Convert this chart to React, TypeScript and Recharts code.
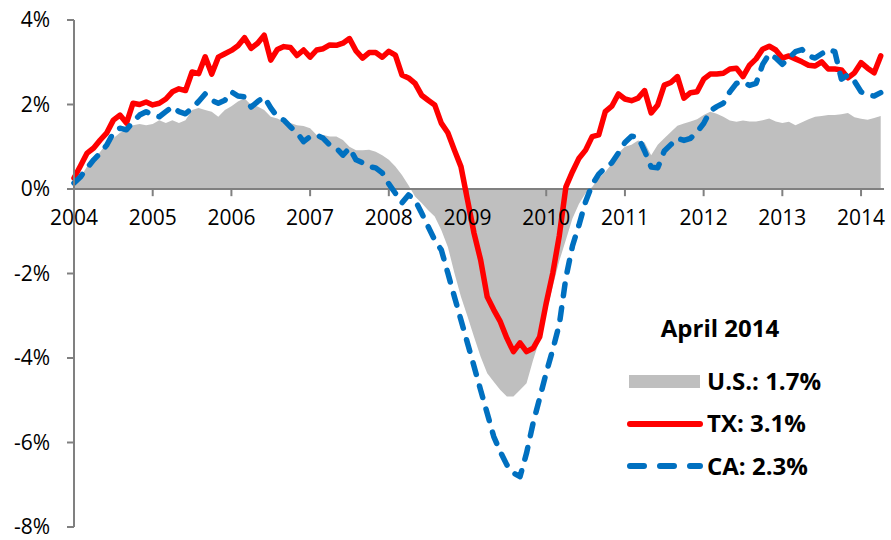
import React from "react";
import {
  ComposedChart,
  Area,
  Line,
  XAxis,
  YAxis,
  ReferenceLine,
} from "recharts";

// monthly, Jan 2004 .. Apr 2014, year-over-year % change
const usValues = [
  0.15, 0.29, 0.53, 0.69, 0.88, 1.08, 1.2, 1.33, 1.4, 1.51, 1.54, 1.51,
  1.54, 1.63, 1.56, 1.63, 1.56, 1.63, 1.87, 1.92, 1.87, 1.83, 1.71, 1.87,
  1.96, 2.07, 2.15, 1.99, 1.95, 1.87, 1.71, 1.67, 1.59, 1.56, 1.51, 1.49,
  1.44, 1.28, 1.28, 1.24, 1.24, 1.16, 1.0, 0.92, 0.92, 0.93, 0.88, 0.8,
  0.69, 0.53, 0.33, 0.09, -0.18, -0.33, -0.5, -0.65, -0.97, -1.37, -1.99, -2.55,
  -3.02, -3.5, -3.97, -4.36, -4.56, -4.76, -4.91, -4.91, -4.76, -4.6, -4.05, -3.57,
  -2.94, -2.3, -1.7, -1.2, -0.7, -0.35, -0.1, 0.05, 0.25, 0.4, 0.6, 0.85,
  1.0, 1.05, 1.15, 1.1, 0.8, 1.05, 1.2, 1.35, 1.5, 1.55, 1.6, 1.65,
  1.75, 1.83, 1.78, 1.71, 1.62, 1.59, 1.62, 1.6, 1.6, 1.63, 1.67, 1.6,
  1.56, 1.59, 1.51, 1.58, 1.65, 1.71, 1.73, 1.75, 1.75, 1.77, 1.8, 1.7,
  1.66, 1.64, 1.68, 1.73,
];

const txValues = [
  0.26, 0.55, 0.85, 0.97, 1.16, 1.33, 1.63, 1.75, 1.56, 2.03, 2.0, 2.06,
  1.99, 2.03, 2.13, 2.3, 2.37, 2.33, 2.77, 2.73, 3.13, 2.72, 3.12, 3.2,
  3.28, 3.39, 3.58, 3.33, 3.45, 3.64, 3.05, 3.3, 3.37, 3.35, 3.16, 3.29,
  3.12, 3.29, 3.32, 3.41, 3.4, 3.45, 3.56, 3.27, 3.1, 3.23, 3.23, 3.12,
  3.26, 3.17, 2.7, 2.63, 2.5, 2.22, 2.1, 1.99, 1.56, 1.33, 0.92, 0.53,
  -0.26, -1.05, -1.68, -2.55, -2.86, -3.14, -3.53, -3.85, -3.64, -3.85, -3.77, -3.5,
  -2.7, -1.99, -1.1, 0.05, 0.41, 0.73, 0.92, 1.24, 1.28, 1.83, 1.96, 2.25,
  2.13, 2.09, 2.15, 2.33, 1.8, 1.99, 2.46, 2.52, 2.66, 2.15, 2.28, 2.3,
  2.6, 2.72, 2.72, 2.74, 2.84, 2.86, 2.66, 2.93, 3.08, 3.31, 3.38, 3.29,
  3.1, 3.15, 3.08, 3.01, 2.93, 2.91, 3.01, 2.84, 2.84, 2.82, 2.63, 2.75,
  2.99, 2.86, 2.75, 3.15,
];

const caValues = [
  0.14, 0.29, 0.5, 0.69, 0.85, 1.04, 1.33, 1.44, 1.4, 1.59, 1.75, 1.83,
  1.75, 1.71, 1.83, 1.95, 1.83, 1.78, 1.92, 2.07, 2.25, 2.1, 2.03, 2.1,
  2.3, 2.2, 2.18, 1.94, 2.07, 2.18, 1.92, 1.71, 1.63, 1.47, 1.33, 1.12,
  1.24, 1.28, 1.2, 1.04, 0.97, 0.8, 0.97, 0.69, 0.62, 0.53, 0.5, 0.38,
  0.12, -0.1, -0.33, -0.14, -0.26, -0.57, -0.89, -1.21, -1.44, -1.99, -2.55, -3.1,
  -3.65, -4.2, -4.76, -5.31, -5.86, -6.22, -6.53, -6.72, -6.81, -6.25, -5.54, -4.95,
  -4.35, -3.8, -3.2, -2.1, -1.35, -0.85, -0.3, 0.1, 0.35, 0.5, 0.62, 0.85,
  1.1, 1.25, 1.23, 0.9, 0.52, 0.5, 0.9, 1.05, 1.2, 1.15, 1.2, 1.35,
  1.55, 1.85, 1.95, 2.03, 2.3, 2.5, 2.54, 2.45, 2.5, 2.95, 3.2, 3.1,
  2.95, 3.1, 3.25, 3.3, 3.15, 3.1, 3.2, 3.3, 3.25, 2.6, 2.7, 2.55,
  2.3, 2.22, 2.2, 2.28,
];

const yearLabels = [
  "2004", "2005", "2006", "2007", "2008", "2009",
  "2010", "2011", "2012", "2013", "2014",
];

const yTicks = [-8, -6, -4, -2, 0, 2, 4];

const data = usValues.map((us, i) => ({
  i,
  us,
  tx: txValues[i],
  ca: caValues[i],
}));

const AXIS = "#808080";
const FONT = "'Open Sans', sans-serif";

export default function App() {
  return (
    <div style={{ position: "absolute", left: 0, top: 0, width: 891, height: 540 }}>
      <ComposedChart
        width={891}
        height={540}
        data={data}
        margin={{ top: 20, right: 7, bottom: 13, left: 0 }}
      >
        <XAxis dataKey="i" type="number" domain={[0, 123.5]} hide />
        <YAxis
          type="number"
          domain={[-8, 4]}
          ticks={yTicks}
          width={74}
          tickSize={7}
          tickMargin={17}
          tickFormatter={(v) => `${v}%`}
          axisLine={{ stroke: AXIS, strokeWidth: 2 }}
          tickLine={{ stroke: AXIS, strokeWidth: 2 }}
          tick={{ fill: "#000", fontSize: 21, fontFamily: FONT }}
        />
        <Area
          dataKey="us"
          type="linear"
          fill="#BFBFBF"
          fillOpacity={1}
          stroke="none"
          baseValue={0}
          isAnimationActive={false}
        />
        <ReferenceLine y={0} stroke={AXIS} strokeWidth={2} />
        {yearLabels.map((label, k) => (
          <ReferenceLine
            key={label}
            segment={[
              { x: k * 12, y: 0 },
              { x: k * 12, y: -0.17 },
            ]}
            stroke={AXIS}
            strokeWidth={2}
            label={{
              value: label,
              position: "bottom",
              offset: 14,
              fill: "#000",
              fontSize: 21,
              fontFamily: FONT,
            }}
          />
        ))}
        <Line
          dataKey="tx"
          type="linear"
          stroke="#FF0000"
          strokeWidth={5.5}
          strokeLinejoin="round"
          strokeLinecap="round"
          dot={false}
          isAnimationActive={false}
        />
        <Line
          dataKey="ca"
          type="linear"
          stroke="#0070C0"
          strokeWidth={5.5}
          strokeDasharray="12 12"
          strokeLinejoin="round"
          strokeLinecap="round"
          dot={false}
          isAnimationActive={false}
        />
      </ComposedChart>
      <svg
        width={891}
        height={540}
        style={{ position: "absolute", left: 0, top: 0, pointerEvents: "none" }}
        fontFamily={FONT}
        fontWeight={700}
        fontSize={24}
      >
        <text x={720} y={337} textAnchor="middle">April 2014</text>
        <rect x={629} y={375} width={71} height={13} fill="#BFBFBF" />
        <text x={707} y={390}>U.S.: 1.7%</text>
        <line x1={630} y1={424} x2={700} y2={424} stroke="#FF0000" strokeWidth={6} strokeLinecap="round" />
        <text x={707} y={432}>TX: 3.1%</text>
        <line x1={630} y1={466} x2={700} y2={466} stroke="#0070C0" strokeWidth={6} strokeLinecap="round" strokeDasharray="14 16" />
        <text x={707} y={475}>CA: 2.3%</text>
      </svg>
    </div>
  );
}
